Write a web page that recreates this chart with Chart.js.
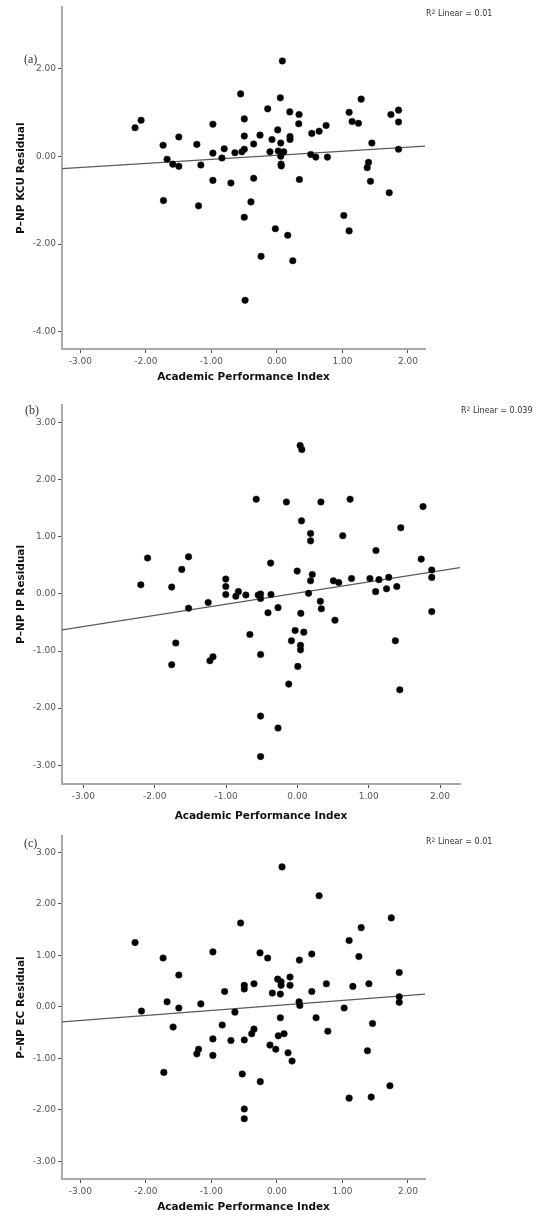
<!DOCTYPE html>
<html><head><meta charset="utf-8">
<script src="https://cdn.jsdelivr.net/npm/chart.js@4.4.1/dist/chart.umd.min.js"></script>
<style>
html,body{margin:0;padding:0;background:#fff;}
#wrap{position:relative;width:543px;height:1218px;overflow:hidden;}
canvas{position:absolute;left:0;}
.lbl{position:absolute;font-family:"Liberation Serif",serif;font-size:12px;color:#333;line-height:12px;}
.r2{position:absolute;font-family:"DejaVu Sans",sans-serif;font-size:8px;color:#333;line-height:8px;white-space:nowrap;}
.r2 sup{font-size:6px;vertical-align:top;position:relative;top:-2px;}
</style></head><body>
<div id="wrap">
<canvas id="ca" width="543" height="392" style="top:0px"></canvas>
<canvas id="cb" width="543" height="433" style="top:392px"></canvas>
<canvas id="cc" width="543" height="393" style="top:825px"></canvas>
<div class="lbl" style="left:24px;top:53px">(a)</div>
<div class="lbl" style="left:25px;top:404px">(b)</div>
<div class="lbl" style="left:24px;top:837px">(c)</div>
<div class="r2" style="left:426px;top:10px">R<sup>2</sup> Linear = 0.01</div>
<div class="r2" style="left:461px;top:407px">R<sup>2</sup> Linear = 0.039</div>
<div class="r2" style="left:426px;top:838px">R<sup>2</sup> Linear = 0.01</div>
</div>
<script>
// ---- data ----
const xTickValues = [-3, -2, -1, 0, 1, 2];
const xTickLabels = ["-3.00", "-2.00", "-1.00", "0.00", "1.00", "2.00"];
const yTickValuesA = [-4, -2, 0, 2];
const yTickLabelsA = ["-4.00", "-2.00", "0.00", "2.00"];
const yTickValuesBC = [-3, -2, -1, 0, 1, 2, 3];
const yTickLabelsBC = ["-3.00", "-2.00", "-1.00", "0.00", "1.00", "2.00", "3.00"];

const apiA = [-2.165,-2.073,-1.737,-1.731,-1.676,-1.589,-1.497,-1.497,-1.222,-1.196,-1.161,-0.977,-0.977,-0.977,-0.839,-0.804,-0.702,-0.641,-0.554,-0.534,-0.498,-0.498,-0.498,-0.498,-0.396,-0.355,-0.355,-0.258,-0.141,-0.106,-0.075,-0.024,0.012,0.021,0.052,0.058,0.058,0.063,0.067,0.083,0.104,0.165,0.196,0.200,0.200,0.338,0.333,0.343,0.517,0.532,0.593,0.644,0.751,0.771,1.021,1.102,1.102,1.148,1.245,1.286,1.378,1.398,1.428,1.449,1.714,1.740,1.856,1.856,1.856,-0.242,0.242,-0.486];
const kcuResidual = [0.65,0.82,0.25,-1.01,-0.07,-0.18,0.44,-0.23,0.27,-1.13,-0.20,0.73,0.07,-0.55,-0.04,0.17,-0.61,0.08,1.42,0.10,0.85,0.46,0.16,-1.39,-1.04,0.28,-0.50,0.48,1.08,0.10,0.38,-1.65,0.60,0.12,1.33,0.30,0.00,-0.18,-0.22,2.17,0.10,-1.80,1.01,0.45,0.38,0.95,0.74,-0.53,0.04,0.52,-0.02,0.57,0.70,-0.02,-1.35,1.00,-1.70,0.79,0.75,1.30,-0.26,-0.14,-0.57,0.30,-0.83,0.95,1.05,0.78,0.16,-2.28,-2.38,-3.28];

const apiB = [0.039,0.062,-0.577,-0.154,0.330,0.739,0.058,0.185,0.185,0.636,1.450,1.102,-2.100,-1.526,-1.621,-0.375,-0.003,0.209,0.185,-2.195,-1.762,-1.004,-1.004,0.505,0.580,0.759,1.017,1.144,1.281,1.394,1.250,1.097,-0.827,-1.004,-0.863,-0.722,-0.549,-0.516,-0.516,-0.370,-1.526,-1.250,-0.412,-0.271,0.048,0.157,0.322,0.336,0.527,-0.666,-0.031,0.090,-0.083,0.044,0.044,-1.705,-1.762,-1.226,-1.183,-0.516,0.006,-0.121,1.374,1.436,-0.516,-0.271,-0.516,1.762,1.736,1.884,1.884,1.884];
const ipResidual = [2.60,2.53,1.66,1.61,1.61,1.66,1.28,1.06,0.93,1.02,1.16,0.76,0.63,0.65,0.43,0.54,0.40,0.34,0.23,0.16,0.12,0.26,0.13,0.23,0.20,0.27,0.27,0.25,0.29,0.13,0.09,0.04,0.04,-0.01,-0.04,-0.02,-0.02,0.00,-0.08,-0.01,-0.25,-0.15,-0.33,-0.24,-0.34,0.01,-0.13,-0.26,-0.46,-0.71,-0.64,-0.67,-0.82,-0.90,-0.98,-0.86,-1.24,-1.17,-1.10,-1.06,-1.27,-1.58,-0.82,-1.68,-2.14,-2.35,-2.85,1.53,0.61,0.42,0.29,-0.31];

const apiC = [0.078,0.644,1.745,1.286,-0.554,-2.165,1.102,-1.737,-0.977,-0.258,-0.141,0.343,0.532,1.251,-1.497,1.867,0.012,0.063,0.063,0.052,0.200,0.200,-0.498,-0.498,-0.350,-0.798,-0.070,0.532,0.755,1.159,1.404,-1.676,-1.497,-1.161,-2.067,-0.641,0.338,0.349,1.026,1.867,1.867,0.052,0.598,-1.584,-0.835,-0.977,-0.702,-0.498,-0.385,-0.350,0.021,0.109,-0.106,-0.018,0.170,0.231,0.777,1.459,1.382,-1.196,-1.222,-0.977,-1.726,-0.529,-0.254,1.725,1.102,1.439,-0.498,-0.498];
const ecResidual = [2.72,2.16,1.73,1.54,1.63,1.25,1.29,0.95,1.07,1.05,0.95,0.91,1.03,0.98,0.62,0.67,0.54,0.49,0.42,0.25,0.58,0.42,0.42,0.35,0.45,0.30,0.27,0.30,0.45,0.40,0.45,0.10,-0.02,0.06,-0.08,-0.10,0.10,0.03,-0.02,0.20,0.09,-0.21,-0.21,-0.39,-0.35,-0.62,-0.65,-0.64,-0.52,-0.43,-0.56,-0.52,-0.74,-0.82,-0.89,-1.05,-0.47,-0.32,-0.85,-0.82,-0.91,-0.94,-1.27,-1.30,-1.45,-1.53,-1.77,-1.75,-1.98,-2.17];

// fit-line end points
const fitAx = [-3.28, 2.26], fitAy = [-0.28, 0.23];
const fitBx = [-3.30, 2.28], fitBy = [-0.63, 0.46];
const fitCx = [-3.28, 2.26], fitCy = [-0.29, 0.25];

const xTitle = "Academic Performance Index";

function makeChart(id, o) {
  const pts = o.xs.map((x, i) => ({x: x, y: o.ys[i]}));
  const fit = o.fx.map((x, i) => ({x: x, y: o.fy[i]}));
  return new Chart(document.getElementById(id), {
    type: 'scatter',
    data: {datasets: [
      {data: pts, backgroundColor: '#000', borderColor: '#222', borderWidth: 0.5,
       pointRadius: 3.3, pointHoverRadius: 3.3, order: 1},
      {type: 'line', data: fit, borderColor: '#5a5a5a', borderWidth: 1.2, pointRadius: 0,
       fill: false, showLine: true, tension: 0, order: 2}
    ]},
    options: {
      responsive: false, animation: false, devicePixelRatio: 1,
      layout: {padding: {top: o.padTop, right: o.padRight, left: 0, bottom: 0}},
      plugins: {legend: {display: false}, tooltip: {enabled: false}},
      scales: {
        x: {
          type: 'linear', min: o.xMin, max: o.xMax,
          afterBuildTicks: s => { s.ticks = xTickValues.map(v => ({value: v})); },
          afterFit: s => { s.height = o.xAxisH; },
          ticks: {callback: v => xTickLabels[xTickValues.indexOf(v)], font: {family: 'DejaVu Sans', size: 9},
                  color: '#555', padding: 3, maxRotation: 0, autoSkip: false},
          grid: {drawOnChartArea: false, drawTicks: true, tickLength: 4, color: '#555', lineWidth: 1},
          border: {display: true, color: '#a9a9a9', width: 2},
          title: {display: true, text: xTitle, color: '#111',
                  font: {family: 'DejaVu Sans', size: 10.5, weight: 'bold'},
                  padding: {top: 0, bottom: o.xTitlePad}}
        },
        y: {
          type: 'linear', min: o.yMin, max: o.yMax,
          afterBuildTicks: s => { s.ticks = o.yTicks.map(v => ({value: v})); },
          afterFit: s => { s.width = 62; },
          ticks: {callback: v => o.yLabels[o.yTicks.indexOf(v)], font: {family: 'DejaVu Sans', size: 9},
                  color: '#555', padding: 2, autoSkip: false},
          grid: {drawOnChartArea: false, drawTicks: true, tickLength: 4, color: '#555', lineWidth: 1},
          border: {display: true, color: '#a9a9a9', width: 2},
          title: {display: true, text: o.yTitle, color: '#111',
                  font: {family: 'DejaVu Sans', size: 10.5, weight: 'bold'},
                  padding: {top: 15, bottom: 0}}
        }
      }
    }
  });
}

makeChart('ca', {xs: apiA, ys: kcuResidual, fx: fitAx, fy: fitAy,
  xMin: -3.28, xMax: 2.26, yMin: -4.39, yMax: 3.39, yTicks: yTickValuesA, yLabels: yTickLabelsA,
  padTop: 7, padRight: 118, xAxisH: 43, xTitlePad: 8.7, yTitle: "P\u2013NP KCU Residual"});
makeChart('cb', {xs: apiB, ys: ipResidual, fx: fitBx, fy: fitBy,
  xMin: -3.30, xMax: 2.28, yMin: -3.33, yMax: 3.31, yTicks: yTickValuesBC, yLabels: yTickLabelsBC,
  padTop: 13, padRight: 83, xAxisH: 41, xTitlePad: 2, yTitle: "P\u2013NP IP Residual"});
makeChart('cc', {xs: apiC, ys: ecResidual, fx: fitCx, fy: fitCy,
  xMin: -3.28, xMax: 2.26, yMin: -3.34, yMax: 3.32, yTicks: yTickValuesBC, yLabels: yTickLabelsBC,
  padTop: 11, padRight: 118, xAxisH: 39, xTitlePad: 4.4, yTitle: "P\u2013NP EC Residual"});
</script>
</body></html>
